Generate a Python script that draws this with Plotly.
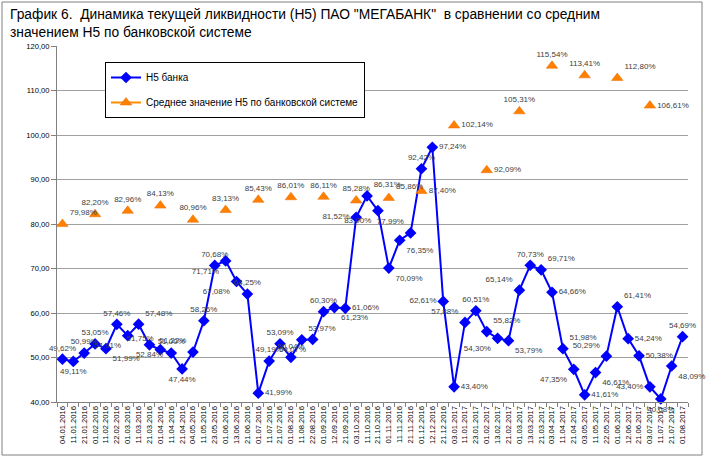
import plotly.graph_objects as go

dates = ["04.01.2016","11.01.2016","21.01.2016","01.02.2016","11.02.2016","22.02.2016","01.03.2016","11.03.2016",
         "21.03.2016","01.04.2016","11.04.2016","21.04.2016","04.05.2016","11.05.2016","23.05.2016","01.06.2016",
         "13.06.2016","21.06.2016","01.07.2016","11.07.2016","21.07.2016","01.08.2016","11.08.2016","22.08.2016",
         "01.09.2016","12.09.2016","21.09.2016","03.10.2016","11.10.2016","21.10.2016","01.11.2016","11.11.2016",
         "21.11.2016","01.12.2016","12.12.2016","21.12.2016","03.01.2017","11.01.2017","23.01.2017","01.02.2017",
         "13.02.2017","21.02.2017","01.03.2017","13.03.2017","21.03.2017","03.04.2017","11.04.2017","21.04.2017",
         "03.05.2017","11.05.2017","22.05.2017","01.06.2017","12.06.2017","21.06.2017","03.07.2017","11.07.2017",
         "21.07.2017","01.08.2017"]

bank_n5 = [49.62,49.11,50.99,53.05,51.99,57.46,54.91,57.48,52.84,51.75,51.00,47.44,51.22,58.26,70.68,71.71,
           67.08,64.25,41.99,49.19,53.09,50.04,53.97,54.07,60.30,61.23,61.06,81.52,86.31,83.00,70.09,76.35,
           77.99,92.42,97.24,62.61,43.40,57.88,60.51,55.82,54.30,53.79,65.14,70.73,69.71,64.66,51.98,47.35,
           41.61,46.61,50.29,61.41,54.24,50.38,43.40,40.68,48.09,54.69]

sys_dates = ["04.01.2016","01.02.2016","01.03.2016","01.04.2016","04.05.2016","01.06.2016","01.07.2016",
             "01.08.2016","01.09.2016","03.10.2016","01.11.2016","01.12.2016","03.01.2017","01.02.2017",
             "01.03.2017","03.04.2017","03.05.2017","01.06.2017","03.07.2017"]
sys_n5 = [79.98,82.20,82.96,84.13,80.96,83.13,85.43,86.01,86.11,85.28,85.86,87.40,102.14,92.09,
          105.31,115.54,113.41,112.80,106.61]

y_ticks = [40,50,60,70,80,90,100,110,120]

bank_pos = ["top center","bottom center","top center","top center","bottom right","top center","bottom left",
            "top right","bottom center","top left","top center","bottom center","top left","top center",
            "top center","bottom left","bottom left","top center","middle right","top center","top center",
            "top center","top right","bottom left","top center","bottom right","middle right","middle left",
            "top right","bottom left","bottom right","bottom right","top left","top center","middle right",
            "middle left","middle right","top left","top center","top right","bottom left","bottom right",
            "top left","top center","top right","middle right","top right","bottom left","middle right",
            "bottom right","top left","top right","middle right","middle right","middle left","bottom center",
            "bottom right","top center"]

sys_pos = ["top right","top center","top center","top center","top center","top center","top center",
           "top center","top center","top center","top right","middle right","middle right","middle right",
           "top center","top center","top center","top right","middle right"]

sys_map = dict(zip(sys_dates, sys_n5))
sys_full = [sys_map.get(d) for d in dates]
sys_pos_map = dict(zip(sys_dates, sys_pos))
sys_pos_full = [sys_pos_map.get(d, "top center") for d in dates]

def fmt(v):
    return "" if v is None else f"{v:.2f}%".replace(".", ",")

L, R, T, B = 57, 19, 46, 55
W, H = 707, 457
pw, ph = W - L - R, H - T - B

fig = go.Figure()
fig.add_trace(go.Scatter(
    x=dates, y=bank_n5, name="Н5 банка", mode="lines+markers+text",
    line=dict(color="#0000FF", width=2),
    marker=dict(symbol="diamond", size=9, color="#0000FF"),
    text=[fmt(v) for v in bank_n5], textposition=bank_pos,
    textfont=dict(family="Liberation Sans", size=8, color="#404040"),
    legendgroup="a", cliponaxis=False))
fig.add_trace(go.Scatter(
    x=dates, y=sys_full, name="Среднее значение Н5 по банковской системе", mode="lines+markers+text",
    connectgaps=False,
    line=dict(color="#FF8C00", width=2),
    marker=dict(symbol="triangle-up", size=10, color="#FF8000", line=dict(color="#E86A00", width=0.5)),
    text=[fmt(v) for v in sys_full], textposition=sys_pos_full,
    textfont=dict(family="Liberation Sans", size=8, color="#404040"),
    legendgroup="b", cliponaxis=False))

fig.update_layout(
    width=W, height=H,
    margin=dict(l=L, r=R, t=T, b=B),
    paper_bgcolor="white", plot_bgcolor="white",
    font=dict(family="Liberation Sans", color="#000000"),
    separators=", ",
    showlegend=True,
    legend=dict(x=(105 - L) / pw, y=(H - B - 62) / ph, xanchor="left", yanchor="top",
                bgcolor="white", bordercolor="#000000", borderwidth=1,
                font=dict(size=10, family="Liberation Sans"),
                traceorder="grouped", tracegroupgap=6),
)
fig.add_annotation(
    text="График 6.  Динамика текущей ликвидности (Н5) ПАО \"МЕГАБАНК\"  в сравнении со средним<br>значением Н5 по банковской системе",
    xref="paper", yref="paper", x=(8 - L) / pw, y=(H - B - 5) / ph, xanchor="left", yanchor="top",
    align="left", showarrow=False, font=dict(size=13.8, family="Liberation Sans", color="#000000"))

fig.update_xaxes(type="category", categoryorder="array", categoryarray=dates,
                 range=[-0.5, len(dates) - 0.5],
                 showgrid=False, showline=True, linecolor="#808080", linewidth=1,
                 ticks="outside", tickson="boundaries", ticklen=4, tickcolor="#808080",
                 tickangle=-90, tickfont=dict(size=7.6, color="#000000"), automargin=False)
fig.update_yaxes(range=[40, 120], tickvals=y_ticks, tickformat=".2f", ticksuffix="%",
                 showgrid=True, gridcolor="#A0A0A0", gridwidth=1,
                 showline=True, linecolor="#808080", linewidth=1,
                 ticks="outside", ticklen=5, tickcolor="#808080",
                 tickfont=dict(size=7.6, color="#000000"), zeroline=False, automargin=False)

fig.add_shape(type="rect", xref="paper", yref="paper",
              x0=(2 - L) / pw, x1=(702 - L) / pw, y0=(H - B - 455) / ph, y1=(H - B - 2) / ph,
              line=dict(color="#808080", width=1), layer="below")

fig.write_html("out.html", config={"displayModeBar": False},
               post_script="document.body.style.margin='0';document.body.style.padding='0';")
